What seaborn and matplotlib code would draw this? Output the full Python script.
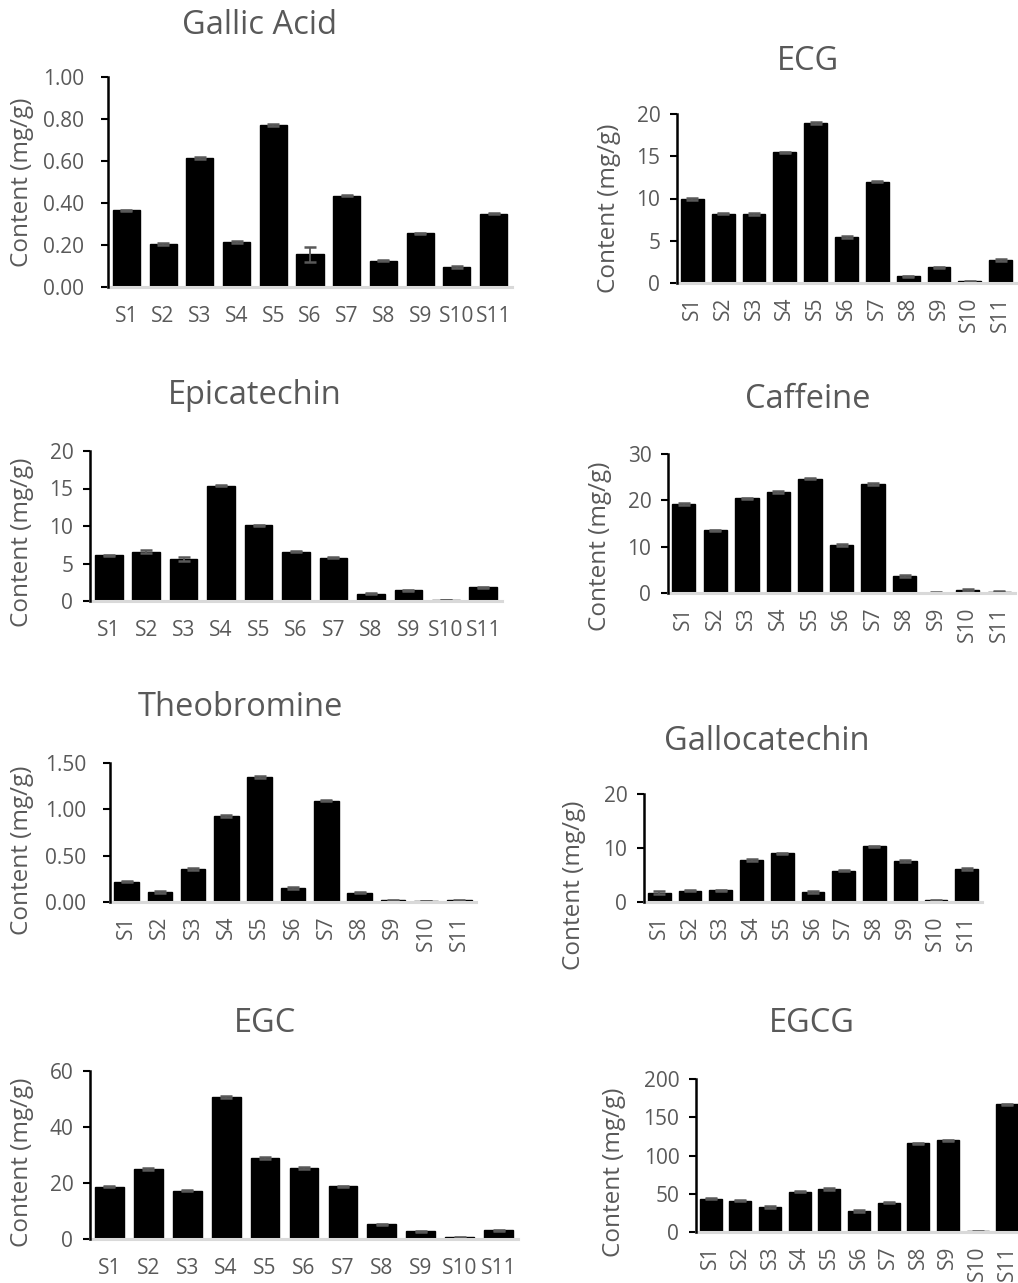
import numpy as np
import pandas as pd
import seaborn as sns
import matplotlib.pyplot as plt

samples = ['S1', 'S2', 'S3', 'S4', 'S5', 'S6', 'S7', 'S8', 'S9', 'S10', 'S11']

gallic_acid = [0.365, 0.205, 0.615, 0.215, 0.77, 0.155, 0.435, 0.125, 0.255, 0.095, 0.35]
gallic_acid_err = [0.004, 0.004, 0.006, 0.004, 0.004, 0.035, 0.003, 0.003, 0.003, 0.003, 0.004]

ecg = [9.92, 8.2, 8.15, 15.45, 18.9, 5.45, 11.98, 0.78, 1.85, 0.2, 2.75]
ecg_err = [0.1, 0.08, 0.1, 0.1, 0.1, 0.08, 0.08, 0.1, 0.1, 0.05, 0.12]

epicatechin = [6.1, 6.55, 5.6, 15.35, 10.1, 6.55, 5.8, 1.0, 1.45, 0.1, 1.85]
epicatechin_err = [0.08, 0.2, 0.3, 0.08, 0.08, 0.08, 0.1, 0.1, 0.08, 0.03, 0.08]

caffeine = [19.3, 13.5, 20.4, 21.8, 24.7, 10.3, 23.6, 3.6, 0.1, 0.7, 0.25]
caffeine_err = [0.2, 0.2, 0.2, 0.2, 0.2, 0.2, 0.2, 0.2, 0.05, 0.2, 0.1]

theobromine = [0.22, 0.11, 0.355, 0.93, 1.35, 0.15, 1.095, 0.10, 0.02, 0.01, 0.02]
theobromine_err = [0.008, 0.008, 0.008, 0.008, 0.008, 0.008, 0.008, 0.008, 0.006, 0.004, 0.006]

gallocatechin = [1.7, 2.05, 2.2, 7.8, 9.0, 1.9, 5.8, 10.3, 7.6, 0.3, 6.1]
gallocatechin_err = [0.25, 0.1, 0.1, 0.15, 0.15, 0.15, 0.15, 0.15, 0.1, 0.05, 0.15]

egc = [18.7, 25.0, 17.3, 50.6, 28.9, 25.4, 18.9, 5.3, 2.8, 0.6, 3.1]
egc_err = [0.3, 0.3, 0.3, 0.3, 0.3, 0.3, 0.2, 0.2, 0.2, 0.1, 0.2]

egcg = [43.6, 41.0, 32.7, 52.7, 56.2, 27.5, 38.3, 115.9, 119.8, 1.0, 166.9]
egcg_err = [1.0, 1.0, 1.0, 1.0, 1.0, 1.0, 1.0, 1.0, 1.0, 0.5, 1.0]

sns.set_style('white')
plt.rcParams['font.family'] = ['Open Sans', 'DejaVu Sans']

GREY = '#595959'
W, H = 1018, 1283

fig = plt.figure(figsize=(W / 100, H / 100), dpi=100)


def draw_panel(title, values, errors, ylim, yticks, fmt, box, title_xy, label_xy, rotate, ypad):
    left, top, right, base = box
    ax = fig.add_axes([left / W, 1 - base / H, (right - left) / W, (base - top) / H])
    df = pd.DataFrame({'sample': samples, 'value': values})
    sns.barplot(data=df, x='sample', y='value', color='black', saturation=1,
                width=0.74, edgecolor='black', ax=ax)
    ax.errorbar(range(len(samples)), values, yerr=errors, fmt='none', ecolor=GREY,
                elinewidth=1.3, capsize=4.3, capthick=1.8)
    ax.set_xlim(-0.5, len(samples) - 0.5)
    ax.set_ylim(*ylim)
    ax.set_yticks(yticks)
    ax.set_yticklabels([fmt.format(t) for t in yticks])
    for s in ['top', 'right']:
        ax.spines[s].set_visible(False)
    ax.spines['left'].set_color('black')
    ax.spines['left'].set_linewidth(1.8)
    ax.spines['bottom'].set_color('#D9D9D9')
    ax.spines['bottom'].set_linewidth(2.2)
    ax.spines['left'].set_zorder(5)
    ax.tick_params(axis='y', direction='out', length=5, width=1.5, color='black',
                   labelsize=15, labelcolor=GREY, pad=ypad, left=True)
    ax.tick_params(axis='x', length=0, labelsize=15, labelcolor=GREY,
                   pad=10 if rotate else 14, rotation=90 if rotate else 0)
    ax.set_xlabel('')
    ax.set_ylabel('Content (mg/g)', fontsize=17.5, color=GREY)
    ax.yaxis.set_label_coords((label_xy[0] - left) / (right - left),
                              (base - label_xy[1]) / (base - top))
    fig.text(title_xy[0] / W, 1 - title_xy[1] / H, title, fontsize=23.5, color=GREY,
             ha='center', va='center')
    return ax


draw_panel('Gallic Acid', gallic_acid, gallic_acid_err, (0, 1.0),
           [0, 0.2, 0.4, 0.6, 0.8, 1.0], '{:.2f}',
           (108, 77, 512, 287), (260, 25), (34, 182), False, 12)
draw_panel('ECG', ecg, ecg_err, (0, 20), [0, 5, 10, 15, 20], '{:.0f}',
           (677, 114, 1016, 283), (808, 62), (621, 208), True, 7)
draw_panel('Epicatechin', epicatechin, epicatechin_err, (0, 20), [0, 5, 10, 15, 20], '{:.0f}',
           (90, 451, 502, 601), (255, 395), (34, 542), False, 7)
draw_panel('Caffeine', caffeine, caffeine_err, (0, 30), [0, 10, 20, 30], '{:.0f}',
           (668, 454, 1015, 593), (808, 400), (612, 546), True, 7)
draw_panel('Theobromine', theobromine, theobromine_err, (0, 1.5),
           [0, 0.5, 1.0, 1.5], '{:.2f}',
           (110, 763, 476, 902), (240, 708), (34, 850), True, 12)
draw_panel('Gallocatechin', gallocatechin, gallocatechin_err, (0, 20), [0, 10, 20], '{:.0f}',
           (644, 794, 982, 902), (767, 741), (586, 885), True, 7)
draw_panel('EGC', egc, egc_err, (0, 60), [0, 20, 40, 60], '{:.0f}',
           (90, 1071, 518, 1239), (265, 1023), (34, 1162), False, 7)
draw_panel('EGCG', egcg, egcg_err, (0, 200), [0, 50, 100, 150, 200], '{:.0f}',
           (696, 1079, 1022, 1232), (812, 1023), (626, 1172), True, 7)

fig.savefig('out.png', dpi=100)
